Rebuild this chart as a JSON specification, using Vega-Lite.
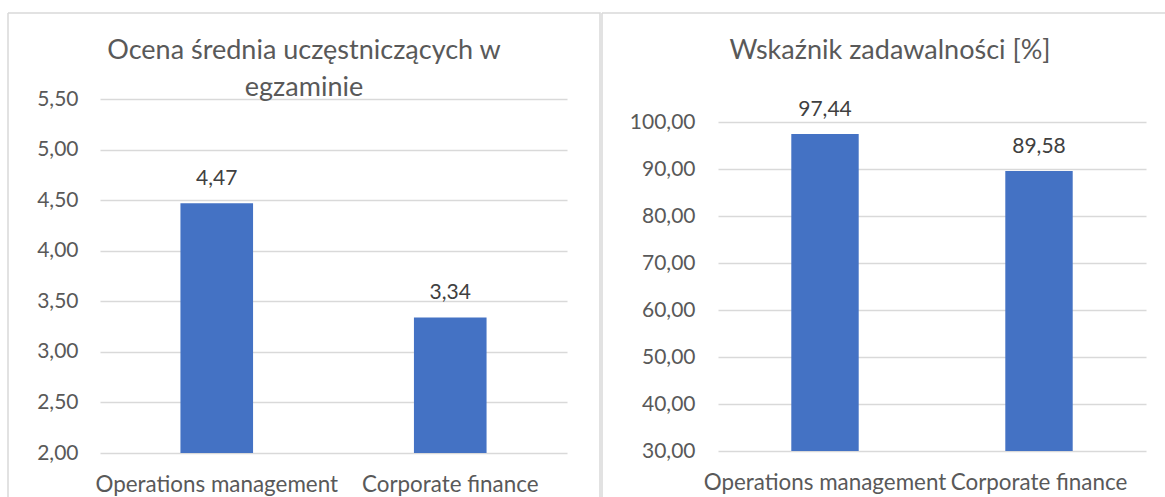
{
  "$schema": "https://vega.github.io/schema/vega-lite/v6.json",
  "padding": {"left": 7, "top": 12, "right": 0, "bottom": 0},
  "spacing": 0,
  "background": "#ffffff",
  "config": {
    "locale": {"number": {"decimal": ",", "thousands": " ", "grouping": [3], "currency": ["", " zł"]}},
    "font": "Lato",
    "axis": {
      "labelFont": "Lato",
      "labelColor": "#595959",
      "ticks": false,
      "domain": false,
      "gridColor": "#D9D9D9",
      "gridWidth": 1.3,
      "labelLimit": 0,
      "labelOverlap": false,
      "title": null
    },
    "axisX": {"labelFontSize": 22.4},
    "axisY": {"labelFontSize": 21},
    "title": {"font": "Lato", "fontWeight": "normal", "color": "#595959", "fontSize": 27}
  },
  "hconcat": [
    {
      "width": 592,
      "height": 484,
      "view": {"stroke": "#D9D9D9", "strokeWidth": 1.5, "strokeDash": [1076, 592, 484, 0]},
      "title": {
        "text": ["Ocena średnia uczęstniczących w", "egzaminie"],
        "frame": "group",
        "anchor": "middle",
        "dx": 0,
        "offset": -110,
        "lineHeight": 37,
        "baseline": "alphabetic"
      },
      "data": {"values": [
        {"kurs": "Operations management", "ocena": 4.47},
        {"kurs": "Corporate finance", "ocena": 3.34}
      ]},
      "encoding": {
        "x": {
          "field": "kurs", "type": "nominal", "sort": null,
          "scale": {"range": [92, 559], "paddingInner": 0.689, "paddingOuter": 0.3445},
          "axis": {"labelAngle": 0, "offset": -44, "labelPadding": 38, "labelBaseline": "alphabetic", "grid": false}
        },
        "y": {
          "field": "ocena", "type": "quantitative",
          "scale": {"domain": [2, 5.5], "range": [440, 86], "nice": false, "zero": false},
          "axis": {"values": [2, 2.5, 3, 3.5, 4, 4.5, 5, 5.5], "format": ".2f", "offset": -92, "labelPadding": 22}
        }
      },
      "layer": [
        {"mark": {"type": "bar", "color": "#4472C4"}, "encoding": {"y2": {"datum": 2}}},
        {
          "mark": {"type": "text", "dy": -18, "baseline": "alphabetic", "fontSize": 21, "color": "#404040", "font": "Lato"},
          "encoding": {"text": {"field": "ocena", "type": "quantitative", "format": ".2f"}}
        }
      ]
    },
    {
      "width": 566,
      "height": 484,
      "view": {"stroke": "#D9D9D9", "strokeWidth": 1.5, "strokeDash": [566, 1050, 484, 0]},
      "title": {
        "text": "Wskaźnik zadawalności [%]",
        "frame": "group",
        "anchor": "middle",
        "dx": 5,
        "offset": -73,
        "baseline": "alphabetic"
      },
      "data": {"values": [
        {"kurs": "Operations management", "wskaznik": 97.44},
        {"kurs": "Corporate finance", "wskaznik": 89.58}
      ]},
      "encoding": {
        "x": {
          "field": "kurs", "type": "nominal", "sort": null,
          "scale": {"range": [116, 544], "paddingInner": 0.685, "paddingOuter": 0.3425},
          "axis": {"labelAngle": 0, "offset": -46, "labelPadding": 38, "labelBaseline": "alphabetic", "grid": false}
        },
        "y": {
          "field": "wskaznik", "type": "quantitative",
          "scale": {"domain": [30, 100], "range": [438, 109], "nice": false, "zero": false},
          "axis": {"values": [30, 40, 50, 60, 70, 80, 90, 100], "format": ".2f", "offset": -116, "labelPadding": 23}
        }
      },
      "layer": [
        {"mark": {"type": "bar", "color": "#4472C4"}, "encoding": {"y2": {"datum": 30}}},
        {
          "mark": {"type": "text", "dy": -18, "baseline": "alphabetic", "fontSize": 21, "color": "#404040", "font": "Lato"},
          "encoding": {"text": {"field": "wskaznik", "type": "quantitative", "format": ".2f"}}
        }
      ]
    }
  ]
}
